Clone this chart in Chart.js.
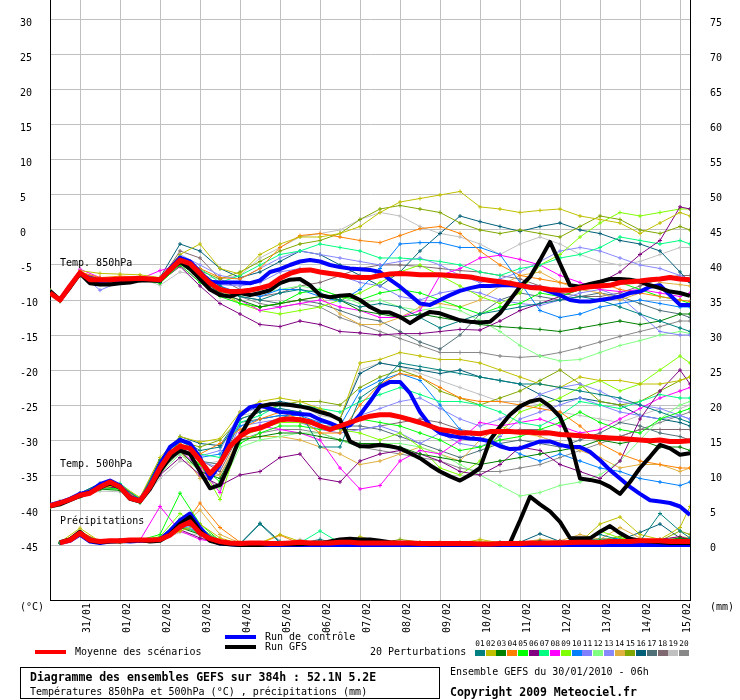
<!DOCTYPE html>
<html>
<head>
<meta charset="utf-8">
<script src="https://cdn.jsdelivr.net/npm/chart.js@4.4.0/dist/chart.umd.min.js"></script>
<style>
  body { margin: 0; background: #fff; width: 740px; height: 700px; overflow: hidden; position: relative;
         font-family: 'DejaVu Sans Mono', monospace; font-size: 10px; color: #000; }
  #wrap { position: absolute; left: 0; top: -30px; width: 740px; height: 670px; }
  .t { position: absolute; white-space: pre; line-height: 12px; }
  .b { font-weight: bold; }
  .ln { position: absolute; height: 4px; width: 31px; }
  .sw { position: absolute; width: 10px; height: 6px; top: 650px; }
  .sn { position: absolute; top: 639px; width: 12px; text-align: center; font-size: 7.8px; line-height: 9px; }
  #box { position: absolute; left: 20px; top: 667px; width: 418px; height: 30px; border: 1px solid #000; }
</style>
</head>
<body>
<div id="wrap"><canvas id="c" width="740" height="670"></canvas></div>

<div class="t" style="left:60px;top:257px">Temp. 850hPa</div>
<div class="t" style="left:60px;top:458px">Temp. 500hPa</div>
<div class="t" style="left:60px;top:515px">Précipitations</div>
<div class="t" style="left:20px;top:601px">(°C)</div>
<div class="t" style="left:710px;top:601px">(mm)</div>

<div class="ln" style="left:35px;top:650px;background:#ff0000"></div>
<div class="t" style="left:75px;top:646px">Moyenne des scénarios</div>
<div class="ln" style="left:225px;top:635px;background:#0000ff"></div>
<div class="t" style="left:265px;top:631px">Run de contrôle</div>
<div class="ln" style="left:225px;top:645px;background:#000"></div>
<div class="t" style="left:265px;top:641px">Run GFS</div>
<div class="t" style="left:370px;top:646px">20 Perturbations</div>
<div id="swatches"></div>

<div id="box"></div>
<div class="t b" style="left:30px;top:671px;font-size:11.5px">Diagramme des ensembles GEFS sur 384h : 52.1N 5.2E</div>
<div class="t" style="left:30px;top:686px;font-size:10px">Températures 850hPa et 500hPa (°C) , précipitations (mm)</div>
<div class="t" style="left:450px;top:666px">Ensemble GEFS du 30/01/2010 - 06h</div>
<div class="t b" style="left:450px;top:686px;font-size:11.5px">Copyright 2009 Meteociel.fr</div>

<script>
// forecast hours (6h steps for mean / control / GFS)
const mainHours = [0, 6, 12, 18, 24, 30, 36, 42, 48, 54, 60, 66, 72, 78, 84, 90, 96, 102, 108, 114,
  120, 126, 132, 138, 144, 150, 156, 162, 168, 174, 180, 186, 192, 198, 204, 210, 216, 222, 228, 234,
  240, 246, 252, 258, 264, 270, 276, 282, 288, 294, 300, 306, 312, 318, 324, 330, 336, 342, 348, 354,
  360, 366, 372, 378, 384];
// hours read for the perturbations
const pertHours = [0, 6, 18, 30, 42, 54, 66, 78, 90, 102, 114, 126, 138, 150, 162, 174, 186, 198, 210,
  222, 234, 246, 258, 270, 282, 294, 306, 318, 330, 342, 354, 366, 378, 384];

const dayHours = [18, 42, 66, 90, 114, 138, 162, 186, 210, 234, 258, 282, 306, 330, 354, 378];
const dayLabels = ['31/01', '01/02', '02/02', '03/02', '04/02', '05/02', '06/02', '07/02',
  '08/02', '09/02', '10/02', '11/02', '12/02', '13/02', '14/02', '15/02'];
const leftTicks = [-45, -40, -35, -30, -25, -20, -15, -10, -5, 0, 5, 10, 15, 20, 25, 30];
const rightTicks = [0, 5, 10, 15, 20, 25, 30, 35, 40, 45, 50, 55, 60, 65, 70, 75];

const mean850 = [-9.0, -10.0, -8.0, -6.1, -7.1, -7.1, -7.1, -7.0, -6.95, -6.9,
  -7.0, -7.1, -5.7, -4.3, -4.8, -6.2, -7.6, -8.5, -8.8, -8.8,
  -8.6, -8.3, -7.9, -6.9, -6.2, -5.8, -5.7, -6.0, -6.2, -6.4,
  -6.7, -6.8, -6.8, -6.5, -6.3, -6.2, -6.3, -6.4, -6.4, -6.4,
  -6.5, -6.6, -6.7, -7.0, -7.2, -7.4, -7.6, -7.9, -8.2, -8.3,
  -8.5, -8.6, -8.6, -8.3, -8.1, -8.0, -7.9, -7.5, -7.4, -7.3,
  -7.1, -7.0, -6.8, -7.0, -7.1];
const ctrl850 = [-8.8, -10.0, -8.0, -6.2, -7.3, -7.3, -7.2, -7.1, -7.0, -7.0,
  -7.1, -7.2, -5.5, -4.0, -4.5, -6.0, -7.4, -7.5, -7.5, -7.5,
  -7.6, -7.2, -6.0, -5.6, -5.0, -4.5, -4.3, -4.5, -5.0, -5.3,
  -5.5, -5.6, -5.7, -6.0, -7.1, -8.1, -9.3, -10.5, -10.7, -10.0,
  -9.3, -8.7, -8.3, -8.0, -8.0, -7.9, -7.9, -8.0, -8.1, -8.3,
  -8.8, -9.3, -10.0, -10.2, -10.2, -10.0, -9.8, -9.5, -9.0, -8.8,
  -8.1, -7.9, -9.3, -10.7, -10.7];
const gfs850 = [-8.7, -10.0, -8.2, -6.2, -7.6, -7.8, -7.8, -7.6, -7.5, -7.2,
  -7.2, -7.2, -5.8, -4.5, -5.5, -7.0, -8.5, -9.3, -9.5, -9.0,
  -9.3, -9.0, -8.6, -7.6, -7.1, -7.0, -7.9, -9.3, -9.6, -9.4,
  -9.3, -10.0, -11.0, -11.7, -11.8, -12.4, -13.3, -12.4, -11.7, -11.9,
  -12.4, -12.9, -13.1, -13.2, -13.1, -11.9, -10.0, -8.1, -6.7, -4.3,
  -1.7, -4.8, -7.9, -8.1, -7.7, -7.4, -7.0, -7.0, -7.1, -7.4,
  -7.9, -8.3, -8.8, -9.0, -9.4];

const mean500 = [-39.4, -39.0, -38.5, -37.9, -37.6, -36.7, -36.0, -36.7, -38.3, -38.7,
  -36.7, -34.0, -31.9, -30.9, -31.2, -32.9, -34.8, -33.3, -30.9, -29.5,
  -28.6, -28.3, -27.7, -27.1, -27.0, -27.1, -27.4, -28.0, -28.5, -28.0,
  -27.5, -27.0, -26.6, -26.4, -26.4, -26.7, -27.1, -27.5, -28.0, -28.5,
  -28.7, -29.0, -29.0, -29.1, -28.8, -28.8, -28.8, -28.9, -28.9, -29.0,
  -29.0, -29.2, -29.3, -29.4, -29.5, -29.6, -29.7, -29.8, -29.9, -30.0,
  -30.1, -30.0, -30.2, -30.2, -30.1];
const ctrl500 = [-39.3, -38.9, -38.4, -37.7, -37.4, -36.3, -35.8, -36.5, -38.2, -38.6,
  -36.5, -33.5, -31.0, -30.0, -30.5, -32.5, -35.5, -33.5, -29.5, -26.5,
  -25.3, -25.0, -25.5, -26.0, -26.1, -26.3, -26.4, -27.1, -27.6, -28.2,
  -27.9, -26.4, -24.5, -22.4, -21.7, -21.7, -23.3, -26.0, -27.9, -29.0,
  -29.4, -29.6, -29.8, -29.9, -30.2, -30.9, -31.3, -31.2, -30.7, -30.2,
  -30.2, -30.7, -31.0, -31.0, -31.7, -32.9, -34.3, -35.5, -36.7, -37.7,
  -38.6, -38.8, -39.0, -39.5, -40.7];
const gfs500 = [-39.5, -39.2, -38.6, -38.0, -37.5, -36.8, -36.2, -36.8, -38.4, -38.8,
  -37.0, -34.5, -32.5, -31.5, -32.0, -34.5, -36.9, -36.4, -33.3, -29.5,
  -26.9, -25.2, -24.9, -24.9, -25.0, -25.2, -25.5, -26.0, -26.4, -27.1,
  -30.2, -30.9, -30.9, -30.7, -30.9, -31.2, -31.9, -32.6, -33.6, -34.5,
  -35.2, -35.8, -35.0, -34.0, -30.0, -28.1, -26.4, -25.2, -24.5, -24.2,
  -25.2, -26.7, -30.0, -35.5, -35.7, -36.0, -36.7, -37.7, -36.0, -34.0,
  -32.4, -30.7, -31.2, -32.1, -31.9];

// precipitation (mm, right axis)
const meanPrec = [null, 0.3, 0.7, 1.7, 0.7, 0.5, 0.6, 0.6, 0.7, 0.7,
  0.7, 0.8, 1.4, 2.6, 3.3, 1.7, 0.9, 0.5, 0.3, 0.2,
  0.3, 0.3, 0.2, 0.2, 0.3, 0.4, 0.3, 0.3, 0.3, 0.4,
  0.4, 0.3, 0.3, 0.3, 0.3, 0.3, 0.3, 0.2, 0.2, 0.2,
  0.2, 0.2, 0.2, 0.15, 0.15, 0.2, 0.2, 0.2, 0.3, 0.3,
  0.3, 0.3, 0.35, 0.4, 0.4, 0.4, 0.5, 0.5, 0.5, 0.6,
  0.6, 0.6, 0.5, 0.5, 0.5];
const ctrlPrec = [null, 0.3, 0.6, 1.5, 0.5, 0.3, 0.5, 0.6, 0.5, 0.6,
  0.6, 0.8, 2.0, 3.5, 4.5, 2.5, 0.8, 0.2, 0.1, 0,
  0, 0, 0, 0, 0, 0, 0, 0, 0, 0,
  0, 0, 0, 0, 0, 0, 0, 0, 0, 0,
  0, 0, 0, 0, 0, 0, 0, 0, 0, 0,
  0, 0, 0, 0, 0, 0, 0, 0, 0, 0,
  0, 0, 0, 0, 0];
const gfsPrec = [null, 0.4, 0.8, 1.9, 0.6, 0.4, 0.5, 0.5, 0.6, 0.7,
  0.5, 0.6, 1.5, 3.0, 4.0, 2.0, 0.6, 0.2, 0.1, 0,
  0, 0, 0.1, 0.1, 0.1, 0.1, 0.2, 0.2, 0.5, 0.8,
  0.9, 0.8, 0.8, 0.6, 0.4, 0.3, 0.2, 0.2, 0.1, 0.1,
  0.1, 0.1, 0.1, 0.1, 0.1, 0.1, 0.3, 3.5, 6.9, 5.8,
  4.8, 3.3, 1.0, 0.95, 0.95, 1.9, 2.7, 1.7, 0.9, 0.6,
  0.5, 0.4, 0.3, 0.3, 0.3];

const pertNames = ['01', '02', '03', '04', '05', '06', '07', '08', '09', '10',
  '11', '12', '13', '14', '15', '16', '17', '18', '19', '20'];
const pertColors = ['#008080', '#c0c000', '#008000', '#ff8000', '#00ff00', '#800080', '#00ff80',
  '#ff00ff', '#80ff00', '#0080ff', '#8080ff', '#80ff80', '#8888ff', '#e0b040', '#80a800',
  '#006078', '#507078', '#806870', '#c0c0c0', '#888888'];

const pert850 = [
  [-8.7, -9.9, -6.3, -7.2, -7.1, -7.0, -7.3, -3.8, -6.0, -8.0, -9.5, -10.0, -9.0, -8.5, -9.0, -10.0, -11.0, -10.5, -11.0, -12.5, -14.0, -13.0, -12.0, -11.5, -11.0, -10.5, -10.0, -9.5, -10.0, -11.0, -12.0, -13.0, -14.0, -14.5],
  [-8.6, -9.8, -5.8, -6.2, -6.3, -6.4, -6.8, -3.5, -2.0, -5.5, -6.3, -3.5, -2.0, -1.0, -1.0, -0.5, 0.5, 2.5, 4.0, 4.5, 5.0, 5.5, 3.3, 3.0, 2.5, 2.8, 3.0, 2.0, 1.5, 1.0, -0.5, 1.0, 2.5, 2.0],
  [-9.0, -10.2, -6.5, -7.6, -7.4, -7.2, -7.5, -4.8, -7.0, -9.0, -10.0, -11.0, -10.5, -10.0, -9.5, -10.0, -11.5, -12.0, -12.5, -12.0, -12.5, -13.0, -13.5, -13.8, -14.0, -14.2, -14.5, -14.0, -13.5, -13.0, -13.5, -13.0, -12.0, -12.0],
  [-8.8, -10.0, -6.0, -6.8, -6.6, -6.7, -7.0, -4.0, -5.5, -6.8, -7.0, -5.5, -2.5, -0.8, -0.5, -1.0, -1.5, -1.8, -0.8, 0.2, 0.5, -0.5, -3.0, -5.0, -6.5, -7.0, -7.5, -8.0, -7.5, -8.5, -9.0, -9.5, -10.0, -10.2],
  [-9.1, -10.1, -6.4, -7.3, -7.2, -7.1, -7.6, -5.0, -7.5, -9.5, -10.5, -11.0, -10.5, -9.0, -8.5, -9.5, -10.0, -9.0, -8.5, -9.0, -10.0, -11.0, -12.0, -11.0, -10.5, -9.0, -9.5, -8.5, -8.0, -7.5, -8.5, -9.5, -10.0, -10.5],
  [-8.9, -10.0, -6.2, -7.0, -7.3, -7.2, -7.4, -5.2, -8.0, -10.5, -12.0, -13.5, -13.8, -13.0, -13.5, -14.5, -14.7, -15.0, -14.8, -14.8, -14.5, -14.2, -14.3, -13.0, -11.5, -10.5, -9.5, -8.5, -7.5, -6.0, -3.5, -1.5, 3.3, 3.0],
  [-8.8, -9.9, -6.1, -7.4, -7.0, -6.9, -7.2, -4.0, -5.5, -7.5, -6.5, -5.0, -3.5, -3.0, -2.0, -2.5, -3.0, -4.0, -4.0, -4.2, -4.5, -5.0, -6.0, -6.5, -5.5, -5.0, -4.0, -3.5, -2.5, -1.0, -1.5, -2.0, -1.5, -2.0],
  [-8.7, -10.0, -5.6, -6.8, -6.9, -7.0, -5.8, -5.0, -7.5, -9.0, -10.0, -11.5, -11.0, -10.5, -10.0, -11.0, -11.5, -12.5, -12.5, -11.5, -6.5, -5.5, -4.0, -3.6, -4.2, -5.0, -6.5, -7.5, -8.5, -8.8, -8.5, -9.0, -9.5, -9.0],
  [-9.0, -10.1, -6.3, -7.5, -7.3, -7.1, -7.4, -4.8, -6.5, -8.5, -10.5, -11.5, -12.0, -11.5, -11.0, -10.0, -9.0, -7.5, -6.0, -5.0, -6.5, -8.0, -9.5, -10.5, -9.0, -5.0, -3.5, -1.0, 1.0, 2.5, 2.0, 2.5, 3.0, 3.0],
  [-8.8, -10.0, -6.4, -7.2, -7.1, -6.9, -7.0, -4.5, -6.0, -8.0, -9.0, -9.5, -8.5, -8.5, -9.5, -10.2, -8.5, -5.5, -2.0, -1.8, -1.8, -2.5, -2.5, -3.5, -7.5, -11.5, -12.5, -12.0, -11.0, -10.5, -10.0, -10.5, -11.0, -11.0],
  [-8.9, -10.1, -6.2, -8.6, -7.4, -7.2, -7.3, -4.6, -6.3, -7.8, -8.0, -7.5, -6.0, -5.5, -6.0, -6.5, -7.5, -8.0, -9.5, -10.0, -9.0, -8.5, -9.0, -10.0, -10.5, -10.8, -10.0, -9.0, -8.5, -9.5, -12.0, -14.5, -15.0, -15.0],
  [-9.0, -10.0, -6.6, -7.8, -7.1, -7.0, -7.2, -4.3, -6.0, -8.8, -9.5, -9.0, -8.5, -8.0, -8.5, -9.5, -10.5, -10.0, -11.0, -11.5, -11.0, -11.5, -12.9, -14.5, -16.5, -18.0, -18.7, -18.5, -17.5, -16.5, -15.8, -15.0, -14.5, -14.8],
  [-8.8, -9.9, -6.0, -7.1, -6.8, -6.8, -7.1, -3.5, -5.0, -6.5, -7.0, -5.5, -4.0, -3.0, -3.5, -4.0, -4.5, -5.0, -4.5, -4.0, -5.0, -6.5, -7.5, -7.0, -6.0, -4.5, -3.0, -2.5, -3.0, -4.0, -5.0, -5.5, -6.5, -7.0],
  [-8.9, -10.0, -6.2, -6.9, -7.0, -7.1, -7.4, -4.5, -6.8, -9.0, -10.5, -11.0, -10.5, -10.0, -9.5, -12.0, -13.5, -13.5, -12.5, -11.0, -10.5, -11.0, -10.0, -8.0, -6.5, -6.0, -7.5, -8.5, -9.0, -10.0, -9.0, -7.5, -7.8, -8.0],
  [-8.7, -10.1, -6.2, -6.9, -6.9, -6.8, -7.0, -4.2, -5.8, -7.0, -6.0, -4.5, -3.0, -2.0, -1.5, -0.5, 1.5, 3.0, 3.5, 3.0, 2.5, 1.0, 0.0, -0.5, 0.0, -0.5, -1.0, 0.5, 2.0, 1.5, 0.0, -0.5, 0.5, 0.0],
  [-8.8, -10.0, -6.4, -7.1, -7.2, -6.9, -6.8, -2.0, -3.0, -5.5, -6.8, -6.0, -4.5, -3.0, -3.5, -5.0, -6.5, -8.0, -6.0, -3.0, -0.5, 2.0, 1.2, 0.5, -0.2, 0.5, 1.0, 0.0, -0.5, -1.5, -2.0, -3.0, -6.0, -7.5],
  [-8.9, -10.0, -6.3, -7.0, -7.1, -7.0, -7.2, -4.0, -6.0, -8.5, -9.5, -10.0, -10.5, -10.0, -10.5, -11.5, -12.5, -13.0, -14.5, -16.0, -17.0, -15.0, -12.0, -10.0, -9.0, -9.5, -10.0, -9.5, -9.0, -9.5, -10.5, -11.5, -12.0, -12.5],
  [-8.6, -9.9, -6.5, -7.3, -6.9, -6.9, -7.3, -3.0, -4.0, -7.0, -8.5, -9.5, -9.0, -8.0, -7.5, -6.5, -5.5, -5.0, -5.0, -5.2, -5.5, -5.8, -6.0, -6.5, -7.0, -8.0, -9.0, -9.5, -9.5, -9.0, -8.0, -7.0, -6.5, -6.5],
  [-8.8, -10.0, -6.1, -6.8, -6.9, -6.9, -7.9, -6.0, -6.5, -7.0, -6.5, -4.0, -2.5, -1.0, -0.5, 0.0, 1.5, 2.5, 2.0, 0.5, -0.5, -1.0, -2.0, -3.5, -2.0, -1.0, -2.0, -3.5, -4.5, -5.0, -4.5, -3.5, -2.5, -2.5],
  [-9.0, -10.1, -6.3, -7.2, -7.0, -7.1, -7.5, -4.2, -6.0, -8.0, -9.5, -10.5, -11.0, -10.5, -11.0, -12.5, -13.5, -14.5, -15.5, -16.5, -17.5, -17.5, -17.5, -18.0, -18.2, -18.0, -17.5, -16.8, -16.0, -15.2, -14.5, -13.8, -13.0, -13.0]
];

const pert500 = [
  [-39.3, -38.9, -37.6, -36.3, -36.5, -38.5, -33.0, -29.8, -31.5, -31.0, -27.0, -26.0, -25.5, -26.0, -31.0, -31.0, -24.0, -22.0, -19.0, -19.5, -20.0, -20.5, -21.0, -21.5, -22.0, -22.0, -22.5, -23.0, -23.5, -24.0, -25.0, -26.0, -27.0, -27.5],
  [-39.6, -39.2, -38.0, -36.9, -36.4, -38.2, -32.5, -29.5, -30.3, -29.8, -26.0, -24.5, -24.0, -24.5, -25.5, -27.0, -19.0, -18.5, -17.5, -18.0, -18.5, -18.5, -19.0, -20.0, -21.0, -22.0, -22.5, -21.0, -21.5, -21.5, -22.0, -22.0, -21.5, -21.0],
  [-39.5, -39.0, -38.1, -37.0, -37.2, -38.9, -34.5, -31.5, -34.5, -35.5, -30.0, -29.5, -29.0, -29.0, -29.5, -30.0, -30.5, -30.5, -31.0, -32.0, -32.5, -33.0, -33.5, -33.0, -32.5, -32.0, -31.5, -31.0, -30.0, -30.5, -30.0, -31.0, -31.0, -31.5],
  [-39.2, -38.8, -37.7, -36.5, -36.6, -38.6, -33.8, -30.5, -32.0, -30.5, -28.5, -27.0, -26.0, -27.0, -29.0, -29.0, -25.0, -22.0, -20.5, -21.0, -22.5, -24.0, -24.5, -24.5, -25.0, -25.5, -26.0, -28.0, -30.5, -32.0, -33.0, -33.5, -34.0, -34.0],
  [-39.5, -39.1, -38.0, -36.8, -37.0, -38.8, -34.2, -31.0, -33.5, -36.0, -30.5, -29.0, -28.0, -28.0, -28.5, -28.0, -27.0, -27.5, -28.0, -29.0, -30.0, -31.5, -31.0, -30.0, -29.5, -28.5, -27.5, -26.0, -27.5, -28.5, -29.0, -27.0, -26.0, -25.5],
  [-39.4, -39.0, -37.8, -36.6, -36.9, -38.7, -35.0, -32.5, -35.0, -36.5, -35.0, -34.5, -32.5, -32.0, -35.5, -36.0, -33.0, -32.0, -31.5, -32.0, -33.0, -34.5, -35.0, -33.5, -31.0, -31.5, -33.5, -34.5, -35.5, -33.0, -27.0, -23.0, -20.0, -22.0],
  [-39.3, -38.9, -37.9, -36.4, -36.2, -38.4, -33.5, -30.0, -32.0, -32.5, -27.5, -26.5, -25.0, -25.0, -25.5, -26.0, -24.5, -23.5, -22.5, -23.5, -24.5, -24.5, -25.0, -26.0, -27.5, -28.0, -26.5, -24.5, -25.0, -25.5, -24.5, -23.5, -24.0, -24.0],
  [-39.5, -39.1, -37.6, -36.5, -36.6, -38.6, -34.5, -31.5, -34.0, -37.5, -29.0, -28.0, -28.5, -29.0, -30.0, -34.0, -37.0, -36.5, -33.0, -31.5, -32.0, -30.0, -27.5, -28.0, -27.5, -27.0, -28.0, -29.0, -28.5, -27.0, -25.5, -24.0, -23.0, -22.5],
  [-39.4, -39.0, -38.0, -36.7, -36.8, -38.8, -34.0, -31.2, -33.5, -38.5, -29.5, -28.5, -27.5, -27.5, -28.0, -28.5, -29.0, -30.0, -29.0, -31.0, -34.0, -35.0, -33.0, -29.0, -26.0, -25.0, -24.0, -22.5, -21.5, -23.0, -22.0, -20.0, -18.0, -19.0],
  [-39.3, -38.9, -37.8, -36.6, -36.5, -38.6, -33.6, -30.5, -32.5, -32.0, -28.0, -27.0, -26.5, -26.5, -27.5, -28.0, -23.0, -21.5, -20.5, -21.5, -25.0, -28.5, -30.0, -30.5, -32.0, -33.0, -32.0, -33.0, -34.0, -34.5, -35.5, -36.0, -36.5, -36.0],
  [-39.5, -39.0, -37.9, -36.9, -36.9, -38.9, -34.3, -31.0, -33.0, -34.0, -28.0, -27.5, -27.0, -27.5, -28.5, -29.0, -28.5, -28.0, -29.0, -30.5, -29.0, -30.5, -31.0, -29.5, -27.0, -26.0, -25.0, -24.0, -25.0, -26.0, -26.5, -27.0, -26.5, -27.0],
  [-39.6, -39.2, -38.2, -37.1, -37.1, -39.0, -34.8, -32.0, -34.5, -37.0, -31.0, -30.0, -29.5, -29.0, -29.0, -30.0, -31.0, -30.5, -30.5, -31.0, -32.0, -33.5, -35.0, -36.5, -38.0, -37.5, -36.5, -36.0, -35.0, -33.0, -30.0, -27.0, -25.0, -24.5],
  [-39.4, -38.9, -37.7, -36.4, -36.6, -38.6, -33.8, -30.8, -32.3, -31.5, -26.0, -25.5, -25.5, -26.0, -27.0, -28.5, -26.5, -25.5, -24.5, -24.0, -25.5, -27.0, -28.0, -27.0, -25.5, -23.5, -22.5, -22.0, -23.0, -24.5, -25.0, -25.5, -26.5, -27.0],
  [-39.5, -39.1, -38.0, -36.8, -36.7, -38.7, -34.2, -31.5, -35.5, -35.0, -29.5, -29.5, -29.5, -30.0, -31.0, -32.0, -33.5, -33.0, -32.0, -31.0, -32.0, -33.0, -30.0, -28.0, -29.0, -29.5, -30.5, -31.5, -32.5, -34.0, -33.5, -33.5, -34.5, -34.0],
  [-39.3, -38.9, -37.8, -36.5, -36.5, -38.5, -33.4, -30.2, -31.0, -30.0, -27.0, -26.0, -25.0, -24.5, -24.5, -25.0, -22.5, -21.0, -20.0, -21.0, -23.0, -24.0, -25.0, -24.0, -23.0, -21.5, -20.0, -22.0, -24.5, -25.0, -24.5, -23.0, -21.5, -21.0],
  [-39.2, -38.8, -37.6, -36.2, -36.4, -38.4, -32.8, -29.5, -30.5, -30.8, -26.5, -25.0, -24.5, -25.0, -26.0, -27.0, -20.5, -19.0, -19.5, -20.0, -20.5, -20.0, -21.0, -21.5, -22.0, -23.5, -24.5, -24.0, -24.5, -25.0, -26.5, -27.0, -27.5, -28.0],
  [-39.4, -39.0, -37.9, -36.7, -36.8, -38.7, -34.0, -31.0, -33.0, -33.5, -27.5, -27.0, -26.5, -27.0, -28.0, -28.0, -28.0, -28.5, -29.5, -30.5, -31.5, -32.5, -31.5, -30.5, -30.0, -30.5, -31.0, -30.0, -29.0, -27.5, -28.0, -29.0, -29.5, -30.0],
  [-39.4, -39.0, -37.8, -36.6, -36.7, -38.6, -33.8, -31.0, -32.8, -34.5, -29.0, -28.0, -27.5, -27.5, -28.0, -28.5, -28.5, -28.0, -27.5, -27.0, -27.5, -28.5, -29.0, -29.0, -28.5, -28.5, -29.0, -29.5, -30.0, -29.5, -28.5, -28.5, -28.5, -28.5],
  [-39.5, -39.1, -38.1, -37.3, -37.4, -38.9, -35.5, -33.0, -33.5, -33.0, -26.5, -26.0, -25.0, -25.0, -26.5, -27.0, -20.0, -19.0, -19.5, -20.5, -21.5, -22.5, -23.5, -24.5, -24.5, -25.0, -26.0, -26.5, -27.0, -27.5, -26.5, -25.5, -25.5, -25.0],
  [-39.5, -39.1, -38.0, -36.9, -36.9, -38.8, -34.4, -31.8, -34.0, -35.0, -30.0, -29.0, -28.5, -28.5, -29.0, -30.0, -31.0, -31.5, -32.0, -32.5, -33.0, -34.0, -34.5, -34.5, -34.0, -33.5, -32.5, -31.5, -30.5, -29.5, -28.5, -27.5, -26.5, -26.0]
];

const pertPrec = [
  [null, 0.3, 1.8, 0.4, 0.6, 0.7, 1.0, 3.5, 2.0, 0.5, 0.1, 3.0, 0.3, 0.2, 0.8, 0.1, 0.1, 0.2, 0.3, 0.1, 0.0, 0.1, 0.1, 0.4, 0.2, 0.6, 0.3, 0.8, 1.5, 0.7, 0.5, 4.5, 2.0, 1.0],
  [null, 0.4, 2.4, 0.5, 0.5, 0.6, 0.8, 2.0, 3.0, 1.0, 0.2, 0.3, 1.5, 0.5, 0.2, 0.1, 1.2, 0.4, 0.2, 0.1, 0.1, 0.2, 0.8, 0.3, 0.2, 0.1, 0.5, 0.4, 3.0, 4.0, 1.5, 0.8, 2.5, 5.5],
  [null, 0.3, 1.6, 0.5, 0.6, 0.7, 0.7, 2.5, 1.5, 0.4, 0.1, 0.2, 0.3, 0.2, 0.1, 0.1, 0.2, 0.1, 0.1, 0.2, 0.1, 0.1, 0.2, 0.1, 0.3, 0.2, 0.3, 0.5, 0.6, 0.4, 0.3, 0.6, 1.0, 0.8],
  [null, 0.3, 1.9, 0.5, 0.4, 0.8, 0.9, 2.0, 6.0, 2.5, 0.4, 0.2, 1.4, 0.2, 0.3, 0.2, 0.1, 0.2, 0.3, 0.2, 0.4, 0.1, 0.2, 0.3, 0.2, 0.5, 0.3, 0.2, 0.4, 0.6, 0.4, 0.5, 0.8, 0.6],
  [null, 0.3, 1.5, 0.4, 0.6, 0.7, 1.5, 7.4, 3.0, 0.6, 0.1, 0.1, 0.2, 0.2, 0.1, 0.1, 0.2, 0.1, 0.3, 0.1, 0.1, 0.2, 0.1, 0.3, 0.2, 0.1, 0.2, 0.3, 0.5, 0.4, 0.3, 0.4, 0.6, 0.5],
  [null, 0.3, 1.7, 0.5, 0.5, 0.6, 0.8, 2.2, 1.0, 0.3, 0.1, 0.1, 0.2, 0.1, 0.2, 0.1, 0.1, 0.2, 0.1, 0.1, 0.2, 0.1, 0.1, 0.2, 0.1, 0.4, 0.6, 0.2, 0.5, 0.3, 0.6, 0.8, 1.2, 0.8],
  [null, 0.4, 1.6, 0.6, 0.7, 0.6, 0.9, 3.0, 1.5, 0.4, 0.2, 0.3, 0.2, 0.3, 2.0, 0.3, 0.1, 0.2, 0.3, 0.2, 0.1, 0.3, 0.2, 0.2, 0.3, 0.1, 0.2, 0.5, 0.8, 0.6, 0.4, 0.3, 0.5, 0.4],
  [null, 0.3, 1.8, 0.5, 0.6, 0.7, 5.5, 2.0, 0.8, 0.3, 0.1, 0.1, 0.2, 0.1, 0.1, 0.2, 0.3, 0.4, 0.2, 0.1, 0.1, 0.1, 0.2, 0.1, 0.2, 0.3, 0.2, 0.1, 0.3, 0.2, 0.4, 0.3, 0.6, 0.5],
  [null, 0.3, 1.7, 0.4, 0.6, 0.7, 1.2, 4.5, 2.5, 0.5, 0.2, 0.2, 0.3, 0.6, 0.2, 0.1, 0.2, 0.1, 0.2, 0.3, 0.2, 0.1, 0.3, 0.2, 0.4, 0.6, 0.3, 0.4, 2.0, 1.0, 0.6, 0.5, 0.8, 0.7],
  [null, 0.3, 1.6, 0.5, 0.6, 0.7, 0.9, 3.2, 2.2, 0.6, 0.2, 0.1, 0.2, 0.2, 0.1, 0.1, 0.3, 0.2, 0.1, 0.1, 0.1, 0.2, 0.1, 0.2, 0.3, 0.2, 0.4, 0.5, 0.6, 1.0, 0.4, 0.3, 0.5, 0.4],
  [null, 0.3, 1.5, 0.5, 0.6, 0.6, 0.8, 2.8, 1.8, 0.5, 0.1, 0.2, 0.1, 0.1, 0.2, 0.1, 0.1, 0.2, 0.3, 0.2, 0.1, 0.2, 0.2, 0.1, 0.2, 0.3, 0.2, 0.3, 0.4, 0.3, 0.5, 0.4, 0.6, 0.5],
  [null, 0.3, 1.7, 0.5, 0.5, 0.7, 1.0, 3.8, 2.0, 0.4, 0.1, 0.2, 0.3, 0.2, 0.1, 0.1, 0.2, 0.1, 0.1, 0.2, 0.1, 0.1, 0.1, 0.2, 0.1, 0.2, 0.3, 0.2, 0.4, 0.3, 0.2, 0.4, 0.5, 0.4],
  [null, 0.3, 1.6, 0.5, 0.6, 0.7, 0.9, 3.0, 2.0, 0.5, 0.2, 0.2, 0.2, 0.1, 0.2, 0.2, 0.1, 0.2, 0.2, 0.1, 0.2, 0.1, 0.2, 0.2, 0.3, 0.2, 0.3, 0.4, 0.5, 0.4, 0.3, 0.5, 0.6, 0.5],
  [null, 0.3, 1.8, 0.4, 0.6, 0.7, 0.8, 2.4, 5.0, 1.5, 0.3, 0.2, 0.4, 0.2, 0.3, 0.2, 0.5, 0.3, 0.2, 0.3, 0.2, 0.4, 0.6, 0.2, 0.3, 0.8, 0.6, 1.5, 0.8, 2.5, 1.0, 0.6, 1.2, 1.0],
  [null, 0.3, 1.9, 0.5, 0.6, 0.6, 0.9, 2.6, 1.8, 0.4, 0.2, 0.2, 0.3, 0.2, 0.4, 0.2, 0.3, 0.2, 0.8, 0.4, 0.2, 0.3, 0.4, 0.2, 0.3, 0.4, 0.5, 0.4, 0.7, 1.2, 0.8, 0.6, 2.0, 1.5],
  [null, 0.3, 1.7, 0.5, 0.6, 0.7, 1.0, 3.6, 2.4, 0.6, 0.2, 3.1, 0.5, 0.3, 0.6, 0.2, 0.2, 0.3, 0.2, 0.3, 0.2, 0.3, 0.2, 0.3, 0.4, 1.6, 0.5, 0.6, 0.9, 0.7, 1.8, 3.0, 1.0, 0.8],
  [null, 0.3, 1.6, 0.5, 0.6, 0.7, 0.8, 2.6, 2.0, 0.5, 0.1, 0.2, 0.2, 0.2, 0.1, 0.1, 0.2, 0.2, 0.1, 0.2, 0.1, 0.1, 0.2, 0.2, 0.3, 0.2, 0.4, 0.3, 0.5, 0.4, 0.4, 0.6, 0.7, 0.6],
  [null, 0.3, 1.7, 0.5, 0.6, 0.7, 0.9, 2.8, 1.6, 0.4, 0.1, 0.2, 0.2, 0.2, 0.1, 0.2, 0.1, 0.2, 0.2, 0.1, 0.2, 0.1, 0.2, 0.1, 0.2, 0.3, 0.2, 0.3, 0.4, 0.5, 0.3, 0.4, 0.5, 0.4],
  [null, 0.3, 1.6, 0.5, 0.6, 0.6, 0.7, 1.8, 1.4, 0.3, 0.1, 0.1, 0.2, 0.8, 0.3, 0.1, 0.1, 0.2, 0.1, 0.1, 0.1, 0.1, 0.1, 0.2, 0.1, 0.2, 0.1, 0.2, 0.3, 0.2, 0.3, 0.2, 0.3, 0.3],
  [null, 0.3, 1.7, 0.5, 0.6, 0.7, 0.9, 3.2, 2.1, 0.5, 0.1, 0.2, 0.2, 0.1, 0.2, 0.1, 0.2, 0.1, 0.1, 0.2, 0.1, 0.2, 0.1, 0.1, 0.2, 0.1, 0.2, 0.3, 0.2, 0.3, 0.2, 0.3, 0.4, 0.3]
];

// legend swatches
const sw = document.getElementById('swatches');
pertColors.forEach((col, i) => {
  const left = 475 + i * 10.74;
  const s = document.createElement('div');
  s.className = 'sw';
  s.style.left = left + 'px';
  s.style.background = col;
  sw.appendChild(s);
  const n = document.createElement('div');
  n.className = 'sn';
  n.style.left = (left - 1) + 'px';
  n.textContent = pertNames[i];
  sw.appendChild(n);
});

function pts(hours, vals) {
  return hours.map((h, i) => ({ x: h, y: vals[i] }));
}

const datasets = [];
pertColors.forEach((col, i) => {
  [[pert850[i], 'y'], [pert500[i], 'y'], [pertPrec[i], 'y2']].forEach(([vals, axis]) => {
    datasets.push({
      data: pts(pertHours, vals),
      yAxisID: axis,
      borderColor: col,
      borderWidth: 1,
      pointStyle: 'cross',
      pointRadius: 2,
      pointBorderWidth: 1,
      pointBorderColor: col,
      order: 10
    });
  });
});

function mainLine(vals, axis, col, w, ord) {
  return { data: pts(mainHours, vals), yAxisID: axis, borderColor: col, borderWidth: w,
    pointRadius: 0, order: ord, borderJoinStyle: 'round' };
}
datasets.push(mainLine(ctrl850, 'y', '#0000ff', 4, 3));
datasets.push(mainLine(ctrl500, 'y', '#0000ff', 4, 3));
datasets.push(mainLine(ctrlPrec, 'y2', '#0000ff', 4, 3));
datasets.push(mainLine(gfs850, 'y', '#000000', 4, 2));
datasets.push(mainLine(gfs500, 'y', '#000000', 4, 2));
datasets.push(mainLine(gfsPrec, 'y2', '#000000', 4, 2));
datasets.push(mainLine(mean850, 'y', '#ff0000', 5, 1));
datasets.push(mainLine(mean500, 'y', '#ff0000', 5, 1));
datasets.push(mainLine(meanPrec, 'y2', '#ff0000', 5, 1));

const yMin = -52.857;
const yMax = 32.857;
const tickFont = { family: 'DejaVu Sans Mono', size: 10 };

new Chart(document.getElementById('c'), {
  type: 'line',
  data: { datasets: datasets },
  options: {
    responsive: false,
    animation: false,
    events: [],
    // the canvas starts 30px above the page so the plot area begins at the page top
    layout: { padding: { top: 30, left: 20, right: 0, bottom: 0 } },
    elements: { line: { tension: 0, fill: false } },
    plugins: { legend: { display: false }, tooltip: { enabled: false } },
    scales: {
      x: {
        type: 'linear',
        min: 0,
        max: 384,
        afterBuildTicks: (s) => { s.ticks = dayHours.map((v) => ({ value: v })); },
        afterFit: (s) => { s.height = 40; },
        ticks: {
          autoSkip: false,
          minRotation: 90,
          maxRotation: 90,
          padding: 3,
          labelOffset: 7,
          color: '#000',
          font: tickFont,
          callback: (v) => dayLabels[dayHours.indexOf(v)]
        },
        grid: { color: '#c0c0c0', drawTicks: false },
        border: { color: '#000', width: 1 }
      },
      y: {
        position: 'left',
        min: yMin,
        max: yMax,
        afterBuildTicks: (s) => { s.ticks = leftTicks.map((v) => ({ value: v })); },
        afterFit: (s) => { s.width = 30; },
        ticks: { autoSkip: false, crossAlign: 'far', padding: 0, labelOffset: 3, color: '#000', font: tickFont },
        grid: { color: '#c0c0c0', drawTicks: false },
        border: { color: '#000', width: 1 }
      },
      y2: {
        position: 'right',
        min: yMin + 45,
        max: yMax + 45,
        afterBuildTicks: (s) => { s.ticks = rightTicks.map((v) => ({ value: v })); },
        afterFit: (s) => { s.width = 50; },
        ticks: { autoSkip: false, crossAlign: 'near', padding: 20, labelOffset: 3, color: '#000', font: tickFont },
        grid: { drawOnChartArea: false, drawTicks: false },
        border: { color: '#000', width: 1 }
      }
    }
  }
});
</script>
</body>
</html>
